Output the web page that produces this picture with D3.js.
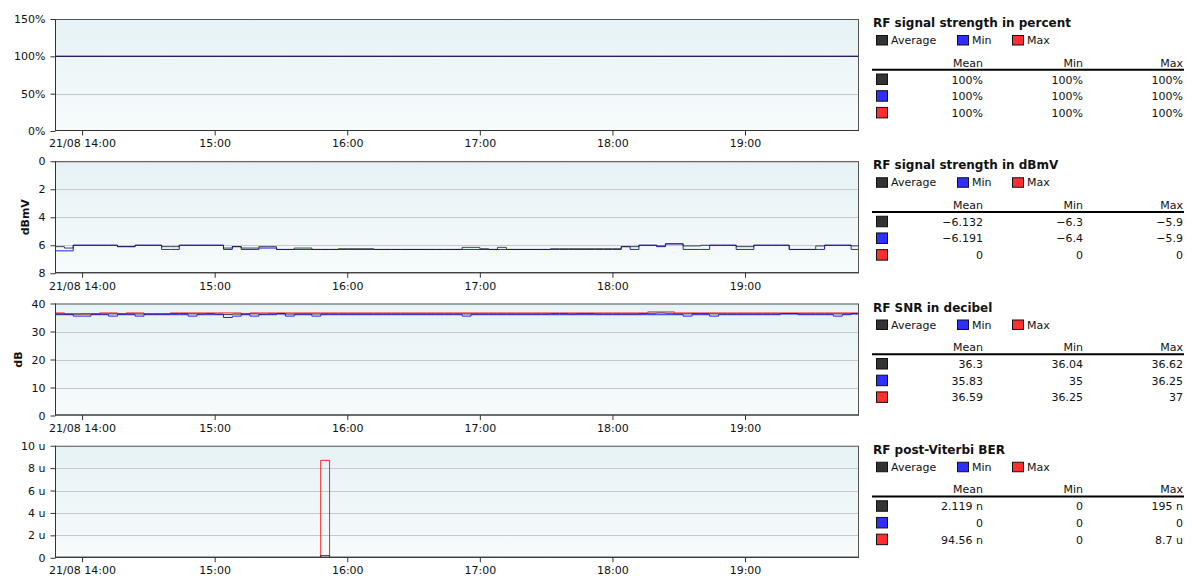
<!DOCTYPE html>
<html><head><meta charset="utf-8">
<script src="https://cdn.jsdelivr.net/npm/d3@7"></script>
<style>
body{margin:0;background:#fff;}
text{font-family:"DejaVu Sans",Verdana,sans-serif;fill:#111;}
</style>
</head><body>
<svg id="chart" width="1192" height="579"></svg>
<script>
// ---------- DATA ----------
const firstSample = new Date(2023, 7, 21, 13, 44, 0);   // start of first 4-minute sample
const sampleMinutes = 4;
const viewStart = new Date(2023, 7, 21, 13, 47, 45);
const viewEnd   = new Date(2023, 7, 21, 19, 51, 35);

const xTickTimes  = ["14:00","15:00","16:00","17:00","18:00","19:00"];
const xTickLabels = ["21/08 14:00","15:00","16:00","17:00","18:00","19:00"];

const seriesNames  = ["Average","Min","Max"];
const seriesColors = ["#333333","#2f2fff","#ff2f2f"];
const statHeaders  = ["Mean","Min","Max"];

// Panel 1: RF signal strength in percent
const pctAvg = [100,100,100,100,100,100,100,100,100,100,100,100,100,100,100,100,100,100,100,100,100,100,100,100,100,100,100,100,100,100,100,100,100,100,100,100,100,100,100,100,100,100,100,100,100,100,100,100,100,100,100,100,100,100,100,100,100,100,100,100,100,100,100,100,100,100,100,100,100,100,100,100,100,100,100,100,100,100,100,100,100,100,100,100,100,100,100,100,100,100,100,100];
const pctMin = [100,100,100,100,100,100,100,100,100,100,100,100,100,100,100,100,100,100,100,100,100,100,100,100,100,100,100,100,100,100,100,100,100,100,100,100,100,100,100,100,100,100,100,100,100,100,100,100,100,100,100,100,100,100,100,100,100,100,100,100,100,100,100,100,100,100,100,100,100,100,100,100,100,100,100,100,100,100,100,100,100,100,100,100,100,100,100,100,100,100,100,100];
const pctMax = [100,100,100,100,100,100,100,100,100,100,100,100,100,100,100,100,100,100,100,100,100,100,100,100,100,100,100,100,100,100,100,100,100,100,100,100,100,100,100,100,100,100,100,100,100,100,100,100,100,100,100,100,100,100,100,100,100,100,100,100,100,100,100,100,100,100,100,100,100,100,100,100,100,100,100,100,100,100,100,100,100,100,100,100,100,100,100,100,100,100,100,100];
const pctTicks = [0,50,100,150];
const pctTickLabels = ["0%","50%","100%","150%"];
const pctStats = [["100%","100%","100%"],["100%","100%","100%"],["100%","100%","100%"]];

// Panel 2: RF signal strength in dBmV
const dbmvAvg = [-6.1,-6.1,-6.2,-6.0,-6.0,-6.0,-6.0,-6.0,-6.1,-6.1,-6.0,-6.0,-6.0,-6.1,-6.1,-6.0,-6.0,-6.0,-6.0,-6.0,
  -6.2,-6.1,-6.2,-6.2,-6.1,-6.1,-6.3,-6.3,-6.2,-6.2,-6.3,-6.3,-6.3,-6.25,-6.25,-6.25,-6.25,-6.3,-6.3,-6.3,
  -6.3,-6.3,-6.3,-6.3,-6.3,-6.3,-6.3,-6.15,-6.15,-6.25,-6.3,-6.15,-6.3,-6.3,-6.3,-6.3,-6.3,-6.25,-6.25,-6.25,
  -6.25,-6.25,-6.25,-6.25,-6.25,-6.1,-6.1,-6.0,-6.0,-6.05,-5.9,-5.9,-6.05,-6.05,-6.0,-6.0,-6.0,-6.0,-6.1,-6.1,
  -6.0,-6.0,-6.0,-6.0,-6.3,-6.3,-6.3,-6.05,-6.0,-6.0,-6.0,-6.05];
const dbmvMin = [-6.4,-6.4,-6.4,-6.0,-6.0,-6.0,-6.0,-6.0,-6.1,-6.1,-6.0,-6.0,-6.0,-6.3,-6.3,-6.0,-6.0,-6.0,-6.0,-6.0,
  -6.3,-6.1,-6.3,-6.3,-6.2,-6.2,-6.3,-6.3,-6.3,-6.3,-6.3,-6.3,-6.3,-6.3,-6.3,-6.3,-6.3,-6.3,-6.3,-6.3,
  -6.3,-6.3,-6.3,-6.3,-6.3,-6.3,-6.3,-6.3,-6.3,-6.3,-6.3,-6.3,-6.3,-6.3,-6.3,-6.3,-6.3,-6.3,-6.3,-6.3,
  -6.3,-6.3,-6.3,-6.3,-6.3,-6.1,-6.3,-6.0,-6.0,-6.1,-5.9,-5.9,-6.3,-6.3,-6.3,-6.0,-6.0,-6.0,-6.3,-6.3,
  -6.0,-6.0,-6.0,-6.0,-6.3,-6.3,-6.3,-6.3,-6.0,-6.0,-6.0,-6.3];
const dbmvMax = [0,0,0,0,0,0,0,0,0,0,0,0,0,0,0,0,0,0,0,0,0,0,0,0,0,0,0,0,0,0,0,0,0,0,0,0,0,0,0,0,0,0,0,0,0,0,0,0,0,0,0,0,0,0,0,0,0,0,0,0,0,0,0,0,0,0,0,0,0,0,0,0,0,0,0,0,0,0,0,0,0,0,0,0,0,0,0,0,0,0,0,0];
const dbmvTicks = [0,-2,-4,-6,-8];
const dbmvTickLabels = ["0","2","4","6","8"];
const dbmvStats = [["\u22126.132","\u22126.3","\u22125.9"],["\u22126.191","\u22126.4","\u22125.9"],["0","0","0"]];

// Panel 3: RF SNR in decibel
const snrAvg = [36.3,36.3,36.25,36.25,36.3,36.3,36.25,36.3,36.3,36.3,36.25,36.3,36.3,36.3,36.4,36.4,36.3,36.3,36.4,36.2,
  36.04,36.2,36.3,36.3,36.2,36.3,36.4,36.2,36.3,36.3,36.25,36.3,36.3,36.3,36.3,36.3,36.3,36.3,36.3,36.3,
  36.3,36.3,36.3,36.3,36.3,36.3,36.3,36.25,36.3,36.3,36.3,36.3,36.3,36.3,36.3,36.3,36.3,36.4,36.4,36.3,
  36.4,36.4,36.3,36.3,36.3,36.3,36.3,36.4,36.5,36.62,36.5,36.3,36.3,36.4,36.4,36.3,36.3,36.3,36.3,36.3,
  36.3,36.3,36.3,36.4,36.4,36.3,36.3,36.3,36.3,36.3,36.3,36.4];
const snrMin = [36.0,36.0,36.0,35.5,35.5,36.0,36.0,35.5,36.0,36.0,35.5,36.0,36.0,36.0,36.0,36.0,35.5,36.0,36.0,36.0,
  35.0,35.5,36.0,35.5,36.0,36.0,36.25,35.5,36.0,36.0,35.5,36.0,36.0,36.0,36.0,36.0,36.0,36.0,36.0,36.0,
  36.0,36.0,36.0,36.0,36.0,36.0,36.0,35.5,36.0,36.0,36.0,36.0,36.0,36.0,36.0,36.0,36.0,36.0,36.0,36.0,
  36.0,36.0,36.0,36.0,36.0,36.0,36.0,36.0,36.0,36.0,36.0,36.0,35.5,36.0,36.0,35.5,36.0,36.0,36.0,36.0,
  36.0,36.0,36.0,36.25,36.25,36.0,36.0,36.0,36.0,35.5,36.0,36.25];
const snrMax = [36.62,36.62,36.25,36.25,36.25,36.25,36.62,36.62,36.25,36.62,36.62,36.25,36.25,36.25,36.62,36.62,36.62,36.62,36.62,36.62,
  36.62,36.62,36.25,36.62,36.62,36.62,36.62,36.62,36.62,36.62,36.62,36.62,36.62,36.62,36.62,36.62,36.62,36.62,36.62,36.62,
  36.62,36.62,36.62,36.62,36.62,36.62,36.62,36.62,36.62,36.62,36.62,36.62,36.62,36.62,36.62,36.62,36.62,36.62,36.62,36.62,
  36.62,36.62,36.62,36.62,36.62,36.62,36.62,36.62,37,37,37,36.62,36.62,36.62,36.62,36.62,36.62,36.62,36.62,36.62,
  36.62,36.62,36.62,36.62,36.62,36.62,36.62,36.62,36.62,36.62,36.62,36.62];
const snrTicks = [0,10,20,30,40];
const snrTickLabels = ["0","10","20","30","40"];
const snrStats = [["36.3","36.04","36.62"],["35.83","35","36.25"],["36.59","36.25","37"]];

// Panel 4: RF post-Viterbi BER
const berAvg = [0,0,0,0,0,0,0,0,0,0,0,0,0,0,0,0,0,0,0,0,0,0,0,0,0,0,0,0,0,0,0,195e-9,0,0,0,0,0,0,0,0,0,0,0,0,0,0,0,0,0,0,0,0,0,0,0,0,0,0,0,0,0,0,0,0,0,0,0,0,0,0,0,0,0,0,0,0,0,0,0,0,0,0,0,0,0,0,0,0,0,0,0,0];
const berMin = [0,0,0,0,0,0,0,0,0,0,0,0,0,0,0,0,0,0,0,0,0,0,0,0,0,0,0,0,0,0,0,0,0,0,0,0,0,0,0,0,0,0,0,0,0,0,0,0,0,0,0,0,0,0,0,0,0,0,0,0,0,0,0,0,0,0,0,0,0,0,0,0,0,0,0,0,0,0,0,0,0,0,0,0,0,0,0,0,0,0,0,0];
const berMax = [0,0,0,0,0,0,0,0,0,0,0,0,0,0,0,0,0,0,0,0,0,0,0,0,0,0,0,0,0,0,0,8.7e-6,0,0,0,0,0,0,0,0,0,0,0,0,0,0,0,0,0,0,0,0,0,0,0,0,0,0,0,0,0,0,0,0,0,0,0,0,0,0,0,0,0,0,0,0,0,0,0,0,0,0,0,0,0,0,0,0,0,0,0,0];
const berTicks = [0,2e-6,4e-6,6e-6,8e-6,10e-6];
const berTickLabels = ["0","2 u","4 u","6 u","8 u","10 u"];
const berStats = [["2.119 n","0","195 n"],["0","0","0"],["94.56 n","0","8.7 u"]];

// ---------- LAYOUT ----------
const panels = [
  {title:"RF signal strength in percent", ylabel:"", ylabelX:0, domain:[0,150], ticks:pctTicks, tickLabels:pctTickLabels, series:[pctAvg,pctMin,pctMax], stats:pctStats},
  {title:"RF signal strength in dBmV", ylabel:"dBmV", ylabelX:25, domain:[-8,0], ticks:dbmvTicks, tickLabels:dbmvTickLabels, series:[dbmvAvg,dbmvMin,dbmvMax], stats:dbmvStats},
  {title:"RF SNR in decibel", ylabel:"dB", ylabelX:18, domain:[0,40], ticks:snrTicks, tickLabels:snrTickLabels, series:[snrAvg,snrMin,snrMax], stats:snrStats},
  {title:"RF post-Viterbi BER", ylabel:"", ylabelX:0, domain:[0,10e-6], ticks:berTicks, tickLabels:berTickLabels, series:[berAvg,berMin,berMax], stats:berStats}
];

const L = 55, R = 859, TOP0 = 19, H = 112, GAP = 142.25;
const FONT = "'DejaVu Sans',Verdana,sans-serif";
const svg = d3.select("#chart");
const defs = svg.append("defs");
const grad = defs.append("linearGradient").attr("id","bg").attr("x1",0).attr("y1",0).attr("x2",0).attr("y2",1);
grad.append("stop").attr("offset","0%").attr("stop-color","#e6f2f5");
grad.append("stop").attr("offset","100%").attr("stop-color","#f7fbfc");

const parseHM = d3.timeParse("%Y-%m-%d %H:%M");
const tickDates = xTickTimes.map(t => parseHM("2023-08-21 " + t));
const x = d3.scaleTime().domain([viewStart, viewEnd]).range([L, R]);

function sampleTime(i){ return d3.timeMinute.offset(firstSample, i * sampleMinutes); }

panels.forEach((p, pi) => {
  const off = pi * GAP;
  const top = TOP0 + off, bottom = top + H;
  const y = d3.scaleLinear().domain(p.domain).range([bottom, top]);
  const g = svg.append("g");

  g.append("rect").attr("x",L).attr("y",top).attr("width",R-L).attr("height",H).attr("fill","url(#bg)");

  // gridlines
  g.selectAll(".grid").data(p.ticks.filter(t => t !== p.domain[0] && t !== p.domain[1]))
    .enter().append("line")
    .attr("x1",L).attr("x2",R).attr("y1",d=>Math.round(y(d))+0.5).attr("y2",d=>Math.round(y(d))+0.5)
    .attr("stroke","#c9c9c9").attr("stroke-width",1);

  // clip (inside plot only)
  const cid = "clip"+pi;
  defs.append("clipPath").attr("id",cid).append("rect").attr("x",L).attr("y",top).attr("width",R-L).attr("height",H);

  const line = d3.line().x(d=>x(d.t)).y(d=>y(d.v)).curve(d3.curveStepAfter);
  // draw order: Max, Min, Average
  [2,1,0].forEach(si => {
    const vals = p.series[si];
    const pts = vals.map((v,i)=>({t:sampleTime(i), v:v}));
    pts.push({t:sampleTime(vals.length), v:vals[vals.length-1]});
    g.append("path").datum(pts).attr("d",line).attr("fill","none")
      .attr("clip-path","url(#"+cid+")")
      .attr("stroke", si===0 ? "#1a1a1a" : (si===1 ? "#2020ff" : "#ff2020"))
      .attr("stroke-opacity", si===0 ? 0.8 : 1)
      .attr("stroke-width",1);
  });

  // border
  g.append("rect").attr("x",L+0.5).attr("y",top+0.5).attr("width",R-L-1).attr("height",H-1)
    .attr("fill","none").attr("stroke","#555").attr("stroke-width",1);
  g.append("line").attr("x1",L+0.5).attr("x2",L+0.5).attr("y1",top).attr("y2",bottom).attr("stroke","#333");
  g.append("line").attr("x1",L).attr("x2",R).attr("y1",bottom-0.5).attr("y2",bottom-0.5).attr("stroke","#333");

  // y axis
  const ya = d3.axisLeft(y).tickValues(p.ticks).tickSize(5).tickPadding(5)
    .tickFormat((d,i)=>p.tickLabels[i]);
  const yg = g.append("g").attr("transform","translate("+(L+0.5)+",0)").call(ya);
  yg.select(".domain").remove();
  yg.selectAll("line").attr("stroke","#333");
  yg.selectAll("text").attr("font-size","11px").attr("fill","#222").style("font-family",FONT);

  // x axis
  const xa = d3.axisBottom(x).tickValues(tickDates).tickSize(5).tickPadding(4)
    .tickFormat((d,i)=>xTickLabels[i]);
  const xg = g.append("g").attr("transform","translate(0,"+(bottom-0.5)+")").call(xa);
  xg.select(".domain").remove();
  xg.selectAll("line").attr("stroke","#333");
  xg.selectAll("text").attr("font-size","11px").attr("fill","#222").style("font-family",FONT);

  // y label
  if (p.ylabel) {
    g.append("text").attr("transform","translate("+p.ylabelX+","+(top+H/2)+") rotate(-90)")
      .attr("text-anchor","middle").attr("dominant-baseline","central")
      .attr("font-size","11px").attr("font-weight","bold").text(p.ylabel);
  }

  // legend
  const lg = svg.append("g").attr("transform","translate(0,"+off+")");
  lg.append("text").attr("x",873).attr("y",27).attr("font-size","12px").attr("font-weight","bold").text(p.title);
  const legX = [876, 957, 1012];
  seriesNames.forEach((n,i)=>{
    lg.append("rect").attr("x",legX[i]+0.5).attr("y",35.5).attr("width",11).attr("height",9.5)
      .attr("fill",seriesColors[i]).attr("stroke","#111").attr("stroke-width",1);
    lg.append("text").attr("x",legX[i]+15).attr("y",44).attr("font-size","11px").text(n);
  });
  const colX = [983, 1083, 1183];
  statHeaders.forEach((h,i)=>{
    lg.append("text").attr("x",colX[i]).attr("y",66.5).attr("text-anchor","end").attr("font-size","11px").text(h);
  });
  lg.append("line").attr("x1",872).attr("x2",1184).attr("y1",69.7).attr("y2",69.7).attr("stroke","#000").attr("stroke-width",2);
  const rowY = [83.5, 100.2, 116.9];
  p.stats.forEach((row,ri)=>{
    lg.append("rect").attr("x",876.5).attr("y",rowY[ri]-9.5).attr("width",11).attr("height",10.5)
      .attr("fill",seriesColors[ri]).attr("stroke","#111").attr("stroke-width",1);
    row.forEach((v,ci)=>{
      lg.append("text").attr("x",colX[ci]).attr("y",rowY[ri]).attr("text-anchor","end").attr("font-size","11px").text(v);
    });
  });
});
</script>
</body></html>
